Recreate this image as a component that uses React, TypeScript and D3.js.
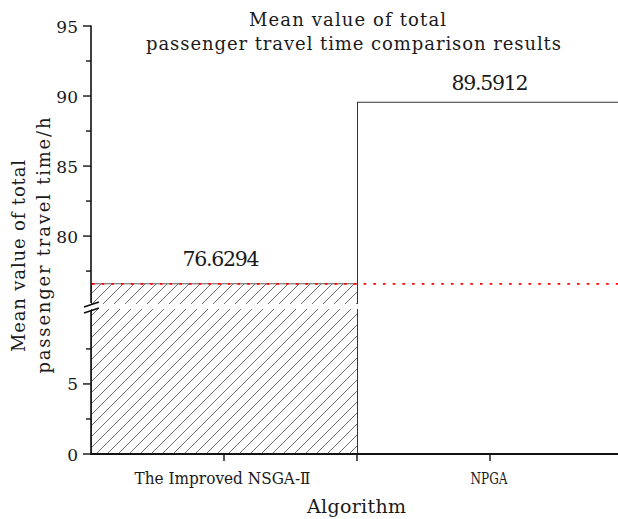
import React from "react";
import * as d3 from "d3";

// Mean total passenger travel time (h) for each algorithm
const categories = ["The Improved NSGA-Ⅱ", "NPGA"];
const meanTravelTime = [76.6294, 89.5912];

// Broken y axis: a low segment and a high segment
const lowerMajorTicks = [0, 5];
const lowerMinorTicks = [2.5, 7.5];
const upperMajorTicks = [80, 85, 90, 95];
const upperMinorTicks = [77.5, 82.5, 87.5, 92.5];

const titleLines = ["Mean value of total", "passenger travel time comparison results"];
const yTitleLines = ["Mean value of total", "passenger travel time/h"];
const xTitle = "Algorithm";

const W = 618;
const H = 519;
const FONT = '"DejaVu Serif", serif';

export default function App() {
  const x = d3.scaleBand<string>().domain(categories).range([91, 623]).padding(0);
  const yLow = d3.scaleLinear().domain([0, 10.35]).range([454, 309]);
  const yHigh = d3.scaleLinear().domain([75.15, 95]).range([304, 26]);

  const axisX = x.range()[0];
  const right = x.range()[1];
  const fmt = d3.format(".4f");
  const labelGap = [17, 12];

  const lowTop = yLow.range()[1];
  const highBottom = yHigh.range()[0];
  const txt = { fontFamily: FONT };
  const ink = "#1a1a1a";

  return (
    <svg
      width={W}
      height={H}
      style={{ position: "absolute", left: 0, top: 0, background: "#fff", fontFamily: FONT }}
    >
      <defs>
        <pattern id="hatch" patternUnits="userSpaceOnUse" width={11} height={11}>
          <line x1={-1} y1={12} x2={12} y2={-1} stroke="#5e5e5e" strokeWidth={0.9} />
          <line x1={-6} y1={6} x2={6} y2={-6} stroke="#5e5e5e" strokeWidth={0.9} />
          <line x1={5} y1={17} x2={17} y2={5} stroke="#5e5e5e" strokeWidth={0.9} />
        </pattern>
        <clipPath id="clipHigh">
          <rect x={axisX} y={0} width={right - axisX + 10} height={highBottom} />
        </clipPath>
        <clipPath id="clipLow">
          <rect x={axisX} y={lowTop} width={right - axisX + 10} height={yLow(0) - lowTop + 1} />
        </clipPath>
      </defs>

      {/* Bars, drawn once per axis segment */}
      {[
        { clip: "url(#clipHigh)", y: yHigh, base: highBottom + 5 },
        { clip: "url(#clipLow)", y: yLow, base: yLow(0) },
      ].map((seg, s) => (
        <g key={s} clipPath={seg.clip}>
          {categories.map((c, i) => {
            const v = meanTravelTime[i];
            const top = s === 0 ? seg.y(v) : lowTop - 5;
            return (
              <rect
                key={c}
                x={x(c)! + 0.5}
                y={top + 0.5}
                width={x.bandwidth()}
                height={seg.base - top}
                fill={i === 0 ? "url(#hatch)" : "#fff"}
                stroke={i === 0 ? "#5a5a5a" : "#333"}
                strokeWidth={1}
              />
            );
          })}
        </g>
      ))}

      {/* Reference line at the improved algorithm's mean */}
      <line
        x1={axisX + 1}
        x2={W}
        y1={yHigh(meanTravelTime[0]) + 0.5}
        y2={yHigh(meanTravelTime[0]) + 0.5}
        stroke="#ff0000"
        strokeWidth={1.8}
        strokeDasharray="2.6 7.1"
      />

      {/* Value labels */}
      {categories.map((c, i) => (
        <text
          key={c}
          x={x(c)! + x.bandwidth() / 2 - (i === 0 ? 3 : 0)}
          y={yHigh(meanTravelTime[i]) - labelGap[i]}
          textAnchor="middle"
          fontSize={20.5}
          fill={ink}
          style={txt}
          textLength={77}
          lengthAdjust="spacing"
        >
          {fmt(meanTravelTime[i])}
        </text>
      ))}

      {/* Y axis, upper segment */}
      <line x1={axisX} x2={axisX} y1={yHigh(95) - 0.5} y2={highBottom - 1} stroke="#111" strokeWidth={1.6} />
      {upperMajorTicks.map((t) => (
        <g key={t}>
          <line x1={axisX - 8} x2={axisX} y1={yHigh(t)} y2={yHigh(t)} stroke="#111" strokeWidth={1.4} />
          <text x={78} y={yHigh(t) + 6.5} textAnchor="end" fontSize={17} fill={ink} style={txt}>
            {t}
          </text>
        </g>
      ))}
      {upperMinorTicks.map((t) => (
        <line key={t} x1={axisX - 5} x2={axisX} y1={yHigh(t)} y2={yHigh(t)} stroke="#111" strokeWidth={1.4} />
      ))}

      {/* Y axis, lower segment */}
      <line x1={axisX} x2={axisX} y1={lowTop + 2} y2={yLow(0)} stroke="#111" strokeWidth={1.6} />
      {lowerMajorTicks.map((t) => (
        <g key={t}>
          <line x1={axisX - 8} x2={axisX} y1={yLow(t)} y2={yLow(t)} stroke="#111" strokeWidth={1.4} />
          <text x={78} y={yLow(t) + 6.5} textAnchor="end" fontSize={17} fill={ink} style={txt}>
            {t}
          </text>
        </g>
      ))}
      {lowerMinorTicks.map((t) => (
        <line key={t} x1={axisX - 5} x2={axisX} y1={yLow(t)} y2={yLow(t)} stroke="#111" strokeWidth={1.4} />
      ))}

      {/* Axis break marks */}
      <line x1={axisX - 7} x2={axisX + 8} y1={highBottom + 3} y2={highBottom - 2} stroke="#111" strokeWidth={1.8} />
      <line x1={axisX - 7} x2={axisX + 8} y1={lowTop + 4} y2={lowTop - 1} stroke="#111" strokeWidth={1.8} />

      {/* X axis */}
      <line x1={axisX - 0.8} x2={W} y1={yLow(0)} y2={yLow(0)} stroke="#111" strokeWidth={1.8} />
      {categories.map((c) => (
        <line
          key={c}
          x1={x(c)! + x.bandwidth() / 2}
          x2={x(c)! + x.bandwidth() / 2}
          y1={yLow(0)}
          y2={yLow(0) + 7}
          stroke="#111"
          strokeWidth={1.4}
        />
      ))}
      {categories.slice(1).map((c) => (
        <line key={c} x1={x(c)!} x2={x(c)!} y1={yLow(0)} y2={yLow(0) + 7} stroke="#111" strokeWidth={1.4} />
      ))}

      {/* Category labels */}
      {categories.map((c, i) => (
        <text
          key={c}
          x={x(c)! + x.bandwidth() / 2 - (i === 0 ? 1.5 : 1)}
          y={484}
          textAnchor="middle"
          fontSize={16.5}
          fill={ink}
          style={txt}
          textLength={i === 0 ? 176 : 37}
          lengthAdjust="spacingAndGlyphs"
        >
          {c}
        </text>
      ))}

      {/* Axis titles */}
      <text x={356.5} y={513} textAnchor="middle" fontSize={19} fill={ink} style={txt} textLength={99} lengthAdjust="spacing">
        {xTitle}
      </text>
      <text
        transform="translate(25,256) rotate(-90)"
        textAnchor="middle"
        fontSize={18}
        fill={ink}
        style={txt}
        textLength={192}
        lengthAdjust="spacing"
      >
        {yTitleLines[0]}
      </text>
      <text
        transform="translate(50,245.5) rotate(-90)"
        textAnchor="middle"
        fontSize={18}
        fill={ink}
        style={txt}
        textLength={256}
        lengthAdjust="spacing"
      >
        {yTitleLines[1]}
      </text>

      {/* Chart title */}
      <text x={347.5} y={26} textAnchor="middle" fontSize={18} fill={ink} style={txt} textLength={197} lengthAdjust="spacing">
        {titleLines[0]}
      </text>
      <text x={353.5} y={49.5} textAnchor="middle" fontSize={18} fill={ink} style={txt} textLength={415} lengthAdjust="spacing">
        {titleLines[1]}
      </text>
    </svg>
  );
}
